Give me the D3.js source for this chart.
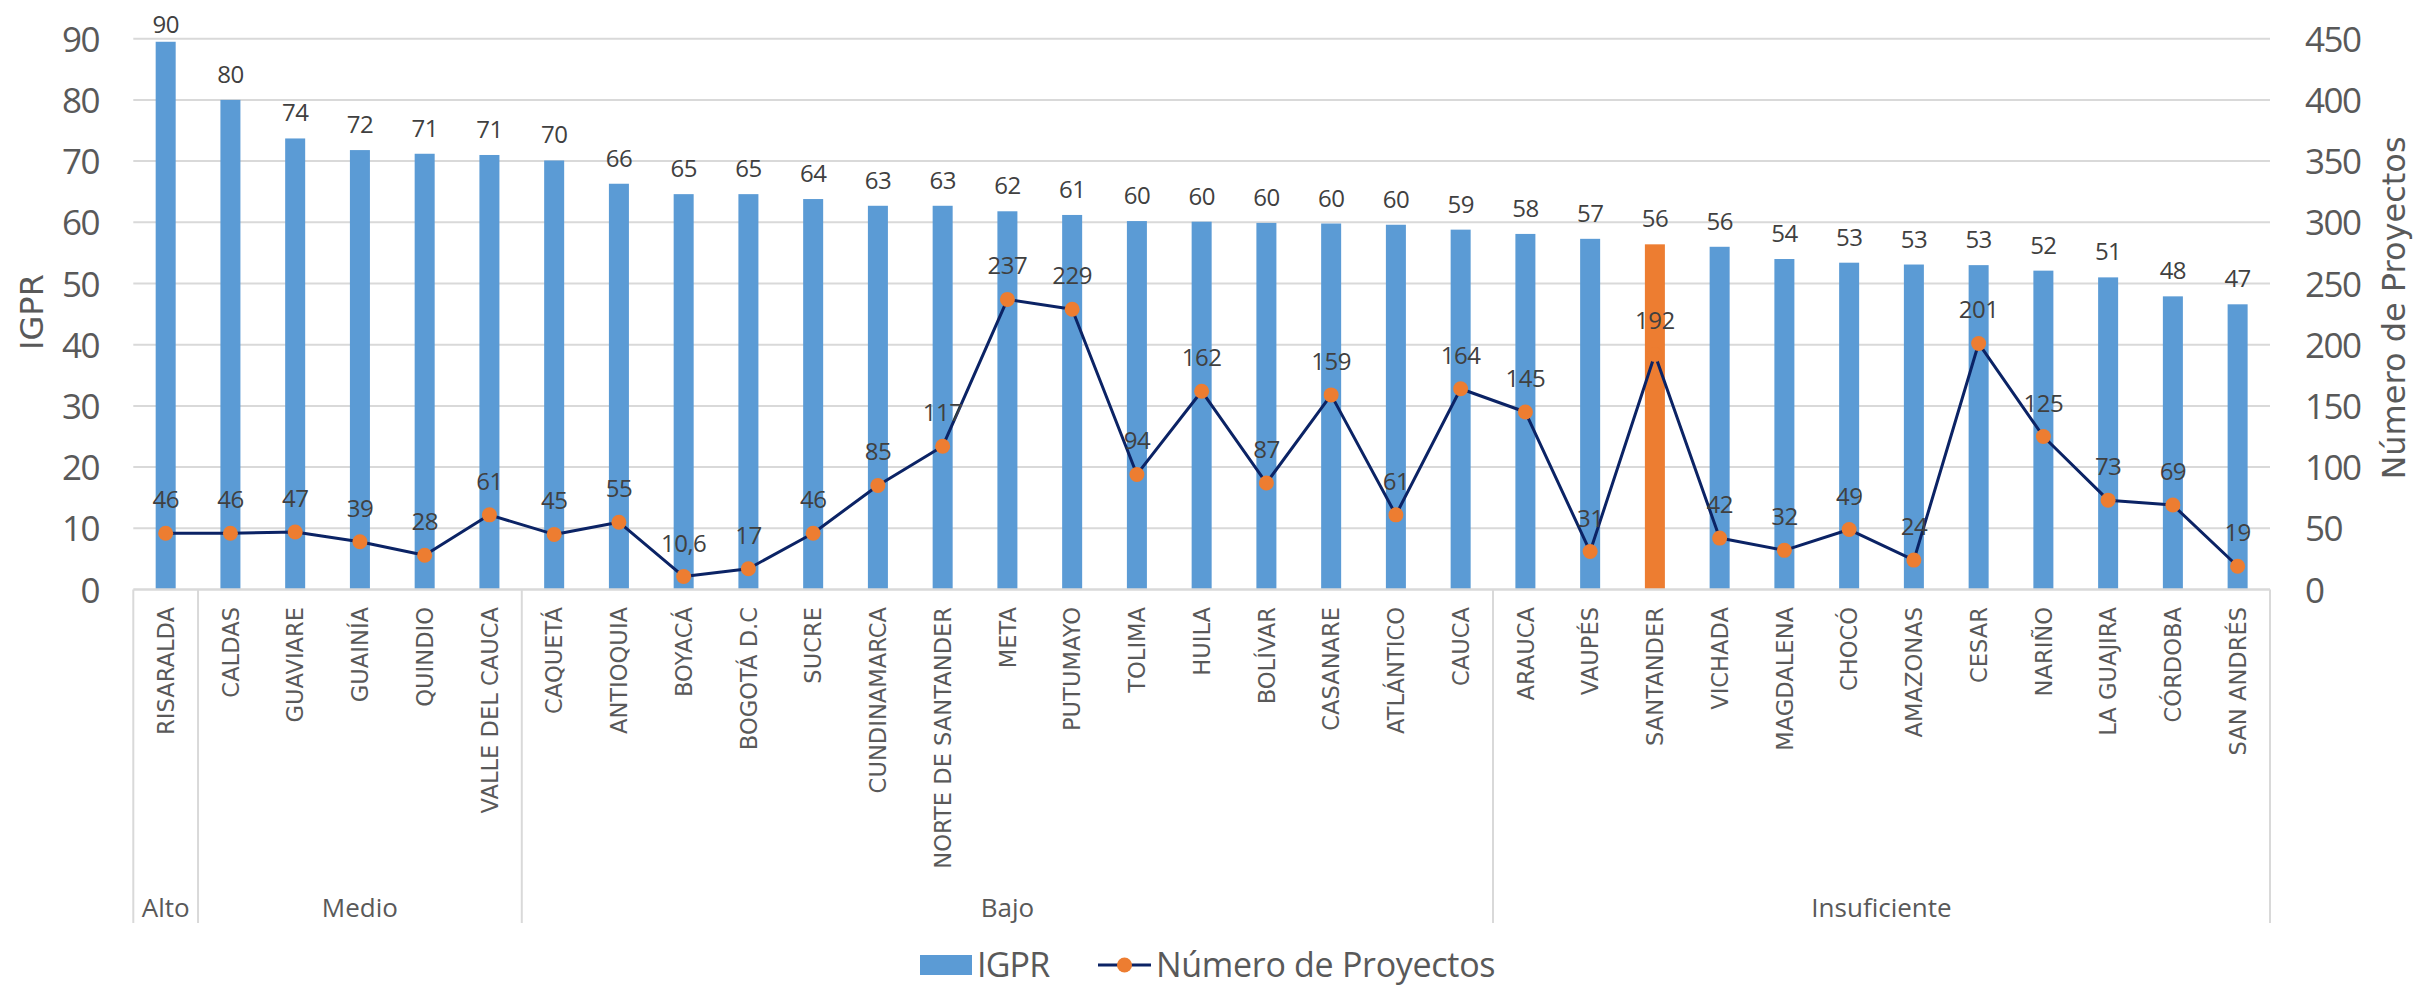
<!DOCTYPE html>
<html>
<head>
<meta charset="utf-8">
<script src="https://cdn.jsdelivr.net/npm/d3@7"></script>
<style>
  html, body { margin: 0; padding: 0; background: #ffffff; }
  svg { display: block; }
</style>
</head>
<body>
<svg id="chart" width="2415" height="988"></svg>
<script>
// ---------- DATA ----------
const categories = ["RISARALDA","CALDAS","GUAVIARE","GUAINÍA","QUINDIO","VALLE DEL CAUCA",
  "CAQUETÁ","ANTIOQUIA","BOYACÁ","BOGOTÁ D.C","SUCRE","CUNDINAMARCA","NORTE DE SANTANDER",
  "META","PUTUMAYO","TOLIMA","HUILA","BOLÍVAR","CASANARE","ATLÁNTICO","CAUCA",
  "ARAUCA","VAUPÉS","SANTANDER","VICHADA","MAGDALENA","CHOCÓ","AMAZONAS","CESAR",
  "NARIÑO","LA GUAJIRA","CÓRDOBA","SAN ANDRÉS"];
const igpr = [89.5,80.0,73.7,71.8,71.2,71.0,
  70.1,66.3,64.6,64.6,63.8,62.7,62.7,
  61.8,61.2,60.2,60.1,59.9,59.8,59.6,58.8,
  58.1,57.3,56.4,56.0,54.0,53.4,53.1,53.0,
  52.1,51.0,47.9,46.6];
const proyectos = [46,46,47,39,28,61,
  45,55,10.6,17,46,85,117,
  237,229,94,162,87,159,61,164,
  145,31,192,42,32,49,24,201,
  125,73,69,19];
const groupNames = ["Alto","Medio","Bajo","Insuficiente"];
const groupSizes = [1,5,15,12];
const highlighted = ["SANTANDER"];
const leftTicks = [0,10,20,30,40,50,60,70,80,90];
const rightTicks = [0,50,100,150,200,250,300,350,400,450];
const seriesNames = ["IGPR","Número de Proyectos"];

// ---------- LAYOUT ----------
const plotLeft = 133.3, plotRight = 2270, y0 = 589.5, yTop = 38.7, groupBottom = 923;
const C_BAR = "#5B9BD5", C_HI = "#ED7D31", C_LINE = "#0B2365", C_GRID = "#D9D9D9";
const C_TXT = "#595959", C_LBL = "#404040";
const NUMFONT = "'Open Sans', sans-serif";
const CATFONT = "'DejaVu Sans', sans-serif";

const svg = d3.select("#chart");

const x = d3.scaleBand().domain(categories).range([plotLeft, plotRight])
  .paddingInner(0.691).paddingOuter(0.3455);
const cx = c => x(c) + x.bandwidth() / 2;
const yL = d3.scaleLinear().domain([0, 90]).range([y0, yTop]);
const yR = d3.scaleLinear().domain([0, 450]).range([y0, yTop]);

// gridlines
svg.append("g").selectAll("line").data(leftTicks.filter(t => t > 0)).join("line")
  .attr("x1", plotLeft).attr("x2", plotRight)
  .attr("y1", d => yL(d)).attr("y2", d => yL(d))
  .attr("stroke", C_GRID).attr("stroke-width", 2);

// left axis (labels only)
const axL = d3.axisLeft(yL).tickValues(leftTicks).tickSize(0).tickPadding(0);
const gL = svg.append("g").attr("transform", "translate(99,0)").call(axL);
gL.select(".domain").remove();
gL.selectAll("text").attr("font-family", NUMFONT).attr("font-size", 35)
  .attr("fill", C_TXT).attr("letter-spacing", -1.5).attr("dy", "0.36em");

// right axis (labels only)
const axR = d3.axisRight(yR).tickValues(rightTicks).tickSize(0).tickPadding(0);
const gR = svg.append("g").attr("transform", "translate(2305,0)").call(axR);
gR.select(".domain").remove();
gR.selectAll("text").attr("font-family", NUMFONT).attr("font-size", 35)
  .attr("fill", C_TXT).attr("letter-spacing", -1.5).attr("dy", "0.36em");

// bars
svg.append("g").selectAll("rect").data(categories).join("rect")
  .attr("x", c => x(c)).attr("width", x.bandwidth())
  .attr("y", (c, i) => yL(igpr[i])).attr("height", (c, i) => y0 - yL(igpr[i]))
  .attr("fill", c => highlighted.includes(c) ? C_HI : C_BAR);

// bar labels
svg.append("g").selectAll("text").data(categories).join("text")
  .attr("x", c => cx(c))
  .attr("y", (c, i) => Math.max(yL(igpr[i]) - 17, 33))
  .attr("text-anchor", "middle").attr("font-family", NUMFONT).attr("font-size", 24)
  .attr("fill", C_LBL).attr("letter-spacing", -0.5)
  .text((c, i) => Math.round(igpr[i]));

// x axis line
svg.append("line").attr("x1", plotLeft).attr("x2", plotRight).attr("y1", y0).attr("y2", y0)
  .attr("stroke", C_GRID).attr("stroke-width", 2.5);

// group separators
const bounds = [0];
groupSizes.forEach((s, i) => bounds.push(bounds[i] + s));
const step = x.step();
const bx = k => plotLeft + k * step;
svg.append("g").selectAll("line").data(bounds).join("line")
  .attr("x1", k => bx(k)).attr("x2", k => bx(k)).attr("y1", y0).attr("y2", groupBottom)
  .attr("stroke", C_GRID).attr("stroke-width", 2);

// category labels
svg.append("g").selectAll("text").data(categories).join("text")
  .attr("transform", c => `translate(${cx(c)},607) rotate(-90)`)
  .attr("text-anchor", "end").attr("dy", "0.36em")
  .attr("font-family", CATFONT).attr("font-size", 22.6).attr("fill", C_TXT)
  .text(c => c);

// group labels
svg.append("g").selectAll("text").data(groupNames).join("text")
  .attr("x", (g, i) => (bx(bounds[i]) + bx(bounds[i + 1])) / 2)
  .attr("y", 917).attr("text-anchor", "middle")
  .attr("font-family", NUMFONT).attr("font-size", 26).attr("fill", C_TXT)
  .text(g => g);

// line
const line = d3.line().x((d, i) => cx(categories[i])).y(d => yR(d));
svg.append("path").datum(proyectos).attr("d", line)
  .attr("fill", "none").attr("stroke", C_LINE).attr("stroke-width", 3)
  .attr("stroke-linejoin", "round");

// markers
svg.append("g").selectAll("circle").data(proyectos).join("circle")
  .attr("cx", (d, i) => cx(categories[i])).attr("cy", d => yR(d)).attr("r", 7.5)
  .attr("fill", C_HI);

// line labels
const fmt = v => Number.isInteger(v) ? String(v) : String(v).replace(".", ",");
svg.append("g").selectAll("text").data(proyectos).join("text")
  .attr("x", (d, i) => cx(categories[i])).attr("y", d => yR(d) - 25)
  .attr("text-anchor", "middle").attr("font-family", NUMFONT).attr("font-size", 24)
  .attr("fill", C_LBL).attr("letter-spacing", -0.5)
  .text(d => fmt(d));

// axis titles
svg.append("text").attr("transform", "translate(43,312) rotate(-90)")
  .attr("text-anchor", "middle").attr("font-family", CATFONT).attr("font-size", 32)
  .attr("fill", C_TXT).text(seriesNames[0]);
svg.append("text").attr("transform", "translate(2405,308) rotate(-90)")
  .attr("text-anchor", "middle").attr("font-family", CATFONT).attr("font-size", 32)
  .attr("fill", C_TXT).text(seriesNames[1]);

// legend
const lg = svg.append("g");
lg.append("rect").attr("x", 920).attr("y", 955).attr("width", 52).attr("height", 20).attr("fill", C_BAR);
lg.append("text").attr("x", 977).attr("y", 977)
  .attr("font-family", NUMFONT).attr("font-size", 34).attr("fill", C_TXT).attr("letter-spacing", -0.8)
  .text(seriesNames[0]);
lg.append("line").attr("x1", 1098).attr("x2", 1151).attr("y1", 965).attr("y2", 965)
  .attr("stroke", C_LINE).attr("stroke-width", 3);
lg.append("circle").attr("cx", 1124.5).attr("cy", 965).attr("r", 7.5).attr("fill", C_HI);
lg.append("text").attr("x", 1156).attr("y", 977)
  .attr("font-family", NUMFONT).attr("font-size", 34).attr("fill", C_TXT).attr("letter-spacing", -0.3)
  .text(seriesNames[1]);
</script>
</body>
</html>
